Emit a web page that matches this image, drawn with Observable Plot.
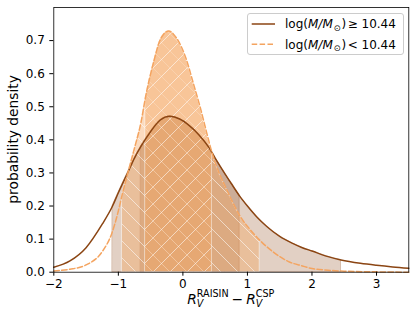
<!DOCTYPE html>
<html><head><meta charset="utf-8">
<script src="https://cdn.jsdelivr.net/npm/d3@7"></script>
<script src="https://cdn.jsdelivr.net/npm/@observablehq/plot@0.6"></script>
<style>body{margin:0;background:#fff;} svg{display:block;}</style>
</head><body><div id="chart"></div>
<script>
// log(M/M_sun) >= 10.44 (solid brown)
const highX = [-2.0, -1.75, -1.5, -1.25, -1.09, -1.0, -0.85, -0.75, -0.65, -0.5, -0.35, -0.2, -0.05, 0.1, 0.25, 0.4, 0.5, 0.65, 0.75, 0.88, 1.0, 1.15, 1.3, 1.5, 1.7, 1.85, 2.0, 2.25, 2.45, 2.75, 3.0, 3.25, 3.5];
const highY = [0.015, 0.034, 0.074, 0.145, 0.200, 0.240, 0.303, 0.345, 0.380, 0.425, 0.460, 0.471, 0.463, 0.443, 0.415, 0.378, 0.345, 0.298, 0.268, 0.230, 0.200, 0.166, 0.138, 0.108, 0.087, 0.074, 0.064, 0.047, 0.037, 0.027, 0.021, 0.016, 0.012];
// log(M/M_sun) < 10.44 (dashed orange)
const lowX = [-2.0, -1.75, -1.5, -1.25, -1.1, -1.0, -0.94, -0.85, -0.75, -0.65, -0.58, -0.45, -0.35, -0.22, -0.1, 0.05, 0.17, 0.27, 0.38, 0.45, 0.55, 0.65, 0.8, 0.9, 1.05, 1.19, 1.4, 1.65, 1.85, 2.0, 2.25, 2.5, 3.0, 3.5];
const lowY = [0.004, 0.009, 0.022, 0.062, 0.118, 0.185, 0.235, 0.302, 0.375, 0.452, 0.528, 0.638, 0.703, 0.729, 0.708, 0.645, 0.565, 0.497, 0.413, 0.362, 0.305, 0.262, 0.200, 0.165, 0.127, 0.097, 0.061, 0.031, 0.019, 0.011, 0.006, 0.003, 0.001, 0.0];
// credible intervals
const highInner = [-0.65, 0.88];
const highOuter = [-1.09, 2.45];
const lowInner = [-0.58, 0.45];
const lowOuter = [-0.94, 1.19];
// ticks and labels
const xTicks = [-2, -1, 0, 1, 2, 3];
const yTicks = [0, 0.1, 0.2, 0.3, 0.4, 0.5, 0.6, 0.7];
const seriesLabels = ["\u2265 10.44", "< 10.44"];
const yLabel = "probability density";

const BROWN = "#8b4513", ORANGE = "#f4a460";
const high = highX.map((x, i) => ({x, y: highY[i]}));
const low = lowX.map((x, i) => ({x, y: lowY[i]}));
const within = ([a, b]) => d => d.x >= a - 1e-9 && d.x <= b + 1e-9;
const curve = "monotone-x";

const W = 416, H = 320, mL = 53.3, mR = 7.7, mT = 7, mB = 48.3;

const chart = Plot.plot({
  width: W, height: H,
  marginLeft: mL, marginRight: mR, marginTop: mT, marginBottom: mB,
  style: {fontFamily: "DejaVu Sans", fontSize: "12px", background: "white"},
  x: {domain: [-2, 3.5]},
  y: {domain: [0, 0.8]},
  marks: [
    Plot.areaY(high.filter(within(highOuter)), {x: "x", y: "y", curve, fill: BROWN, fillOpacity: 0.25, stroke: BROWN, strokeOpacity: 0.25, strokeWidth: 1}),
    Plot.areaY(high.filter(within(highInner)), {x: "x", y: "y", curve, fill: BROWN, fillOpacity: 0.25, stroke: BROWN, strokeOpacity: 0.25, strokeWidth: 1}),
    Plot.areaY(low.filter(within(lowOuter)), {x: "x", y: "y", curve, fill: ORANGE, fillOpacity: 0.4}),
    Plot.areaY(low.filter(within(lowOuter)), {x: "x", y: "y", curve, fill: "url(#hatchBack)", stroke: "white", strokeOpacity: 0.5, strokeWidth: 1}),
    Plot.areaY(low.filter(within(lowInner)), {x: "x", y: "y", curve, fill: ORANGE, fillOpacity: 0.4}),
    Plot.areaY(low.filter(within(lowInner)), {x: "x", y: "y", curve, fill: "url(#hatchFwd)", stroke: "white", strokeOpacity: 0.5, strokeWidth: 1}),
    Plot.line(high, {x: "x", y: "y", curve, stroke: BROWN, strokeWidth: 1.5}),
    Plot.line(low, {x: "x", y: "y", curve, stroke: ORANGE, strokeWidth: 1.5, strokeDasharray: "5.5,2.4"}),
    Plot.frame({stroke: "black", strokeWidth: 0.8}),
    Plot.axisX({ticks: xTicks, tickSize: 4, tickPadding: 3, tickFormat: d3.format("d"), label: null, fontSize: 12}),
    Plot.axisY({ticks: yTicks, tickSize: 4, tickPadding: 5, tickFormat: d3.format(".1f"), label: null, fontSize: 12})
  ]
});
document.getElementById("chart").append(chart);
const svg = d3.select(chart);

// hatch patterns
const S = 17;
const defs = svg.insert("defs", ":first-child");
function hatch(id, d) {
  const p = defs.append("pattern").attr("id", id).attr("patternUnits", "userSpaceOnUse")
    .attr("width", S).attr("height", S);
  p.append("path").attr("d", d).attr("stroke", "white").attr("stroke-opacity", 0.55)
    .attr("stroke-width", 1).attr("fill", "none");
}
hatch("hatchBack", `M-1,-1L${S+1},${S+1}M-1,${S-1}L1,${S+1}M${S-1},-1L${S+1},1`);
hatch("hatchFwd", `M-1,${S+1}L${S+1},-1M-1,1L1,-1M${S-1},${S+1}L${S+1},${S-1}`);

// y label
svg.append("text").attr("transform", `translate(17.5,${(mT + H - mB) / 2}) rotate(-90)`)
  .attr("text-anchor", "middle").attr("font-family", "DejaVu Sans").attr("font-size", 13.8)
  .attr("fill", "black").text(yLabel);

// x label (math)
const xl = svg.append("g").attr("font-family", "DejaVu Sans").attr("fill", "black").attr("text-anchor", "start");
let cx = 0;
function put(str, size, italic, dy) {
  const t = xl.append("text").attr("x", cx).attr("y", dy).attr("font-size", size)
    .attr("text-anchor", "start")
    .attr("font-style", italic ? "italic" : null).text(str);
  return t.node().getComputedTextLength();
}
function rv(sup) {
  cx += put("R", 13.8, true, 0);
  const a = put("V", 9.6, true, 3);
  const b = put(sup, 9.6, false, -7);
  cx += Math.max(a, b);
}
rv("RAISIN");
cx += 3;
cx += put("\u2212", 13.8, false, 0);
cx += 3;
rv("CSP");
xl.attr("transform", `translate(${(mL + W - mR) / 2 - cx / 2},304)`);

// legend
const lg = svg.append("g").attr("font-family", "DejaVu Sans").attr("font-size", 12).attr("text-anchor", "start");
lg.append("rect").attr("x", 247.5).attr("y", 13.5).attr("width", 156).attr("height", 41)
  .attr("rx", 2.5).attr("fill", "white").attr("fill-opacity", 0.8).attr("stroke", "#cccccc").attr("stroke-width", 1);
const rows = [{c: BROWN, dash: null, y: 24}, {c: ORANGE, dash: "5.5,2.4", y: 44.3}];
rows.forEach((r, i) => {
  lg.append("line").attr("x1", 251.7).attr("x2", 275).attr("y1", r.y).attr("y2", r.y)
    .attr("stroke", r.c).attr("stroke-width", 1.5).attr("stroke-dasharray", r.dash);
  const t = lg.append("text").attr("x", 285).attr("y", r.y + 4.4).attr("fill", "black").attr("text-anchor", "start");
  t.append("tspan").text("log(");
  t.append("tspan").attr("font-style", "italic").text("M/M");
  t.append("tspan").attr("font-size", 8.5).attr("dy", 2.5).attr("dx", 0.8).text("\u2299");
  t.append("tspan").attr("dy", -2.5).attr("dx", 0.8).text(")");
  t.append("tspan").attr("dx", 1.5).text(seriesLabels[i]);
});
</script>
</body></html>
